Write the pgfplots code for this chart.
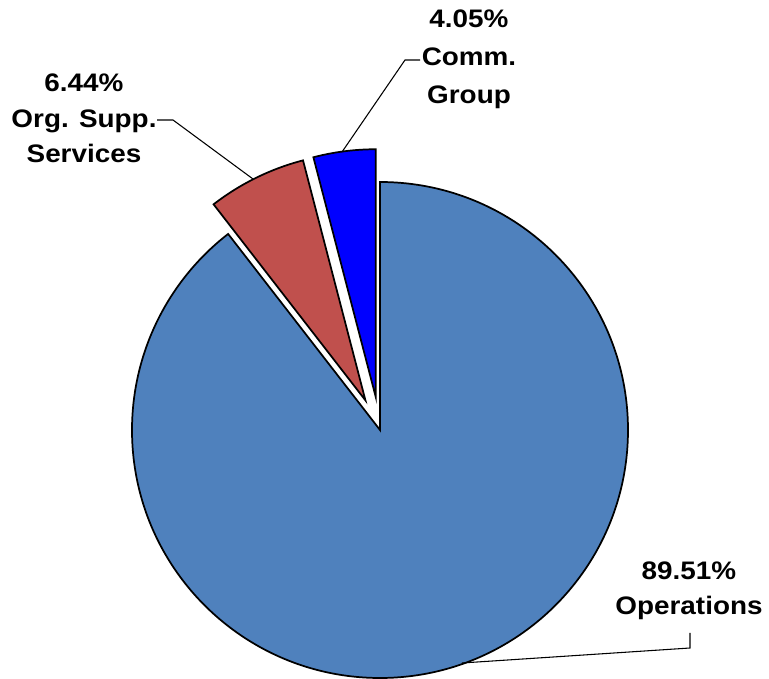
\documentclass[border=0pt]{standalone}
\usepackage{pgfplots}
\usepackage{pgfplotstable}
\pgfplotsset{compat=1.18}
\usepackage{fontspec}
\setmainfont{Liberation Sans}
\definecolor{cOps}{HTML}{4F81BD}
\definecolor{cOrg}{HTML}{C0504D}
\definecolor{cCom}{HTML}{0000FF}
\pgfplotstableread{
label value explode
Operations 89.51 0
OrgSupp 6.44 33
Comm 4.05 33
}\piedata
\begin{document}
\begin{tikzpicture}
\pgfplotstablegetelem{0}{value}\of\piedata \let\vA\pgfplotsretval
\pgfplotstablegetelem{1}{value}\of\piedata \let\vB\pgfplotsretval
\pgfplotstablegetelem{2}{value}\of\piedata \let\vC\pgfplotsretval
\pgfmathsetmacro\aS{90}
\pgfmathsetmacro\aA{90-3.6*\vA}
\pgfmathsetmacro\aB{\aA-3.6*\vB}
\pgfmathsetmacro\aC{\aB-3.6*\vC}
\pgfmathsetmacro\mB{(\aA+\aB)/2}
\pgfmathsetmacro\mC{(\aB+\aC)/2}
\def\R{186pt}
\def\E{24.75pt}
\begin{axis}[
  scale only axis, width=576.75pt, height=507.75pt,
  xmin=0, xmax=769, ymin=0, ymax=677,
  hide axis, clip=false,
  font=\fontsize{19}{23}\selectfont\bfseries,
]
\path (axis cs:0,0) rectangle (axis cs:769,677);
% slices
\filldraw[fill=cOps, draw=black, line width=1.3pt, line join=miter]
  (axis cs:380,247) -- ++(\aS:\R) arc[start angle=\aS, end angle=\aA, radius=\R] -- cycle;
\filldraw[fill=cOrg, draw=black, line width=1.3pt, line join=miter]
  (axis cs:380,247) ++(\mB:\E) -- ++(\aA:\R) arc[start angle=\aA, end angle=\aB, radius=\R] -- cycle;
\filldraw[fill=cCom, draw=black, line width=1.3pt, line join=miter]
  (axis cs:380,247) ++(\mC:\E) -- ++(\aB:\R) arc[start angle=\aB, end angle=\aC, radius=\R] -- cycle;
% leader lines
\draw[black, line width=0.8pt] (axis cs:157,557) -- (axis cs:173,557) -- (axis cs:253,498);
\draw[black, line width=0.8pt] (axis cs:420,617) -- (axis cs:405,617) -- (axis cs:342,525);
\draw[black, line width=0.8pt] (axis cs:690,44) -- (axis cs:690,29) -- (axis cs:462,14);
% labels
\tikzset{lbl/.style={anchor=base, xscale=1.1, inner sep=0pt}}
\node[lbl] at (axis cs:84,585) {6.44\%};
\node[lbl] at (axis cs:84,549) {Org. Supp.};
\node[lbl] at (axis cs:84,514) {Services};
\node[lbl] at (axis cs:469,649) {4.05\%};
\node[lbl] at (axis cs:469,611) {Comm.};
\node[lbl] at (axis cs:469,573) {Group};
\node[lbl] at (axis cs:689,97) {89.51\%};
\node[lbl] at (axis cs:689,62) {Operations};
\end{axis}
\end{tikzpicture}
\end{document}
